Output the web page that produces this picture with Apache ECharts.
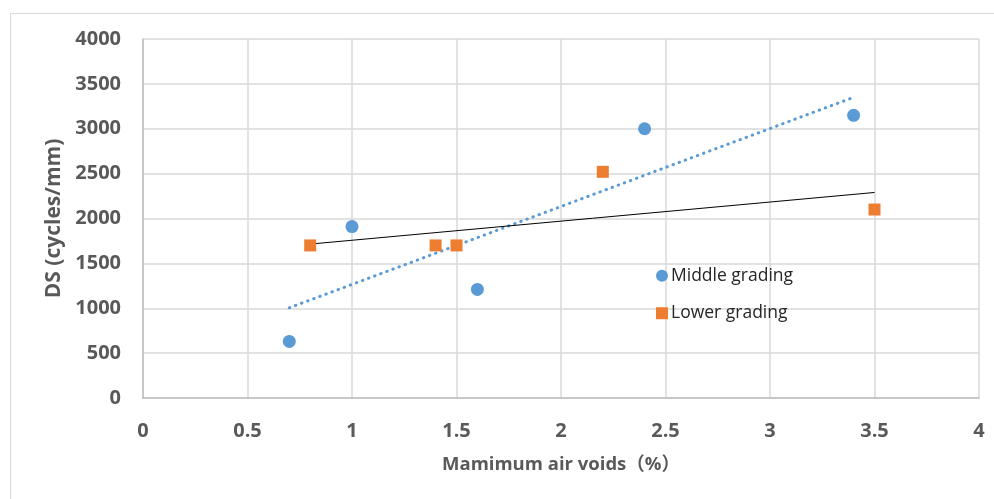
<!DOCTYPE html>
<html>
<head>
<meta charset="utf-8">
<script src="https://cdn.jsdelivr.net/npm/echarts@6/dist/echarts.min.js"></script>
<style>
  html, body { margin: 0; padding: 0; background: #fff; overflow: hidden; }
  #frame { position: absolute; left: 10px; top: 13px; width: 1000px; height: 500px; border: 1px solid #d9d9d9; box-sizing: border-box; }
  #chart { position: absolute; left: 0; top: 0; width: 994px; height: 499px; }
</style>
</head>
<body>
<div id="frame"></div>
<div id="chart"></div>
<script>
// Rutting dynamic stability against maximum air voids
const middleVoids = [0.7, 1.0, 1.6, 2.4, 3.4];
const middleDS    = [630, 1910, 1210, 3000, 3150];
const lowerVoids  = [0.8, 1.4, 1.5, 2.2, 3.5];
const lowerDS     = [1700, 1700, 1700, 2520, 2100];

// Linear trend lines (end points)
const middleTrendX = [0.7, 3.4];
const middleTrendY = [1005, 3350];
const lowerTrendX  = [0.8, 3.5];
const lowerTrendY  = [1715, 2290];

const xTicks = [0, 0.5, 1, 1.5, 2, 2.5, 3, 3.5, 4];
const yTicks = [0, 500, 1000, 1500, 2000, 2500, 3000, 3500, 4000];

const pairs = (xs, ys) => xs.map((x, i) => [x, ys[i]]);

const FONT = '"Open Sans", "Noto Sans CJK SC", sans-serif';
const chart = echarts.init(document.getElementById('chart'), null, { renderer: 'canvas' });

chart.setOption({
  animation: false,
  grid: { left: 143, top: 39, right: 15, bottom: 101 },
  legend: {
    data: ['Middle grading', 'Lower grading'],
    orient: 'vertical',
    left: 651,
    top: 262,
    itemGap: 20,
    itemWidth: 12,
    itemHeight: 12,
    textStyle: { fontFamily: FONT, fontSize: 17.5, color: '#262626', padding: [0, 0, 0, -2] }
  },
  xAxis: {
    type: 'value',
    min: xTicks[0],
    max: xTicks[xTicks.length - 1],
    interval: 0.5,
    name: 'Mamimum air voids（%）',
    nameLocation: 'middle',
    nameGap: 57,
    nameTextStyle: { fontFamily: FONT, fontSize: 18.5, fontWeight: 'bold', color: '#595959' },
    axisLine: { show: true, lineStyle: { color: '#bfbfbf', width: 1.5 } },
    axisTick: { show: false },
    splitLine: { show: true, lineStyle: { color: '#d9d9d9', width: 1.5 } },
    axisLabel: { fontFamily: FONT, fontSize: 20, fontWeight: 'bold', color: '#595959', margin: 23,
      formatter: v => String(v) }
  },
  yAxis: {
    type: 'value',
    min: yTicks[0],
    max: yTicks[yTicks.length - 1],
    interval: 500,
    name: 'DS (cycles/mm)',
    nameLocation: 'middle',
    nameGap: 75,
    nameTextStyle: { fontFamily: FONT, fontSize: 21, fontWeight: 'bold', color: '#595959' },
    axisLine: { show: true, lineStyle: { color: '#bfbfbf', width: 1.5 } },
    axisTick: { show: false },
    splitLine: { show: true, lineStyle: { color: '#d9d9d9', width: 1.5 } },
    axisLabel: { fontFamily: FONT, fontSize: 20, fontWeight: 'bold', color: '#595959', margin: 22,
      formatter: v => String(v) }
  },
  series: [
    {
      name: 'Middle grading trend',
      type: 'line',
      data: pairs(middleTrendX, middleTrendY),
      symbol: 'none',
      lineStyle: { color: '#5b9bd5', width: 3, type: [0.5, 6], cap: 'round' },
      z: 2
    },
    {
      name: 'Lower grading trend',
      type: 'line',
      data: pairs(lowerTrendX, lowerTrendY),
      symbol: 'none',
      lineStyle: { color: '#000', width: 1 },
      z: 2
    },
    {
      name: 'Middle grading',
      type: 'scatter',
      data: pairs(middleVoids, middleDS),
      symbol: 'circle',
      symbolSize: 13,
      itemStyle: { color: '#5b9bd5', opacity: 1 },
      z: 3
    },
    {
      name: 'Lower grading',
      type: 'scatter',
      data: pairs(lowerVoids, lowerDS),
      symbol: 'rect',
      symbolSize: 12,
      itemStyle: { color: '#ed7d31', opacity: 1 },
      z: 3
    }
  ]
});
</script>
</body>
</html>
